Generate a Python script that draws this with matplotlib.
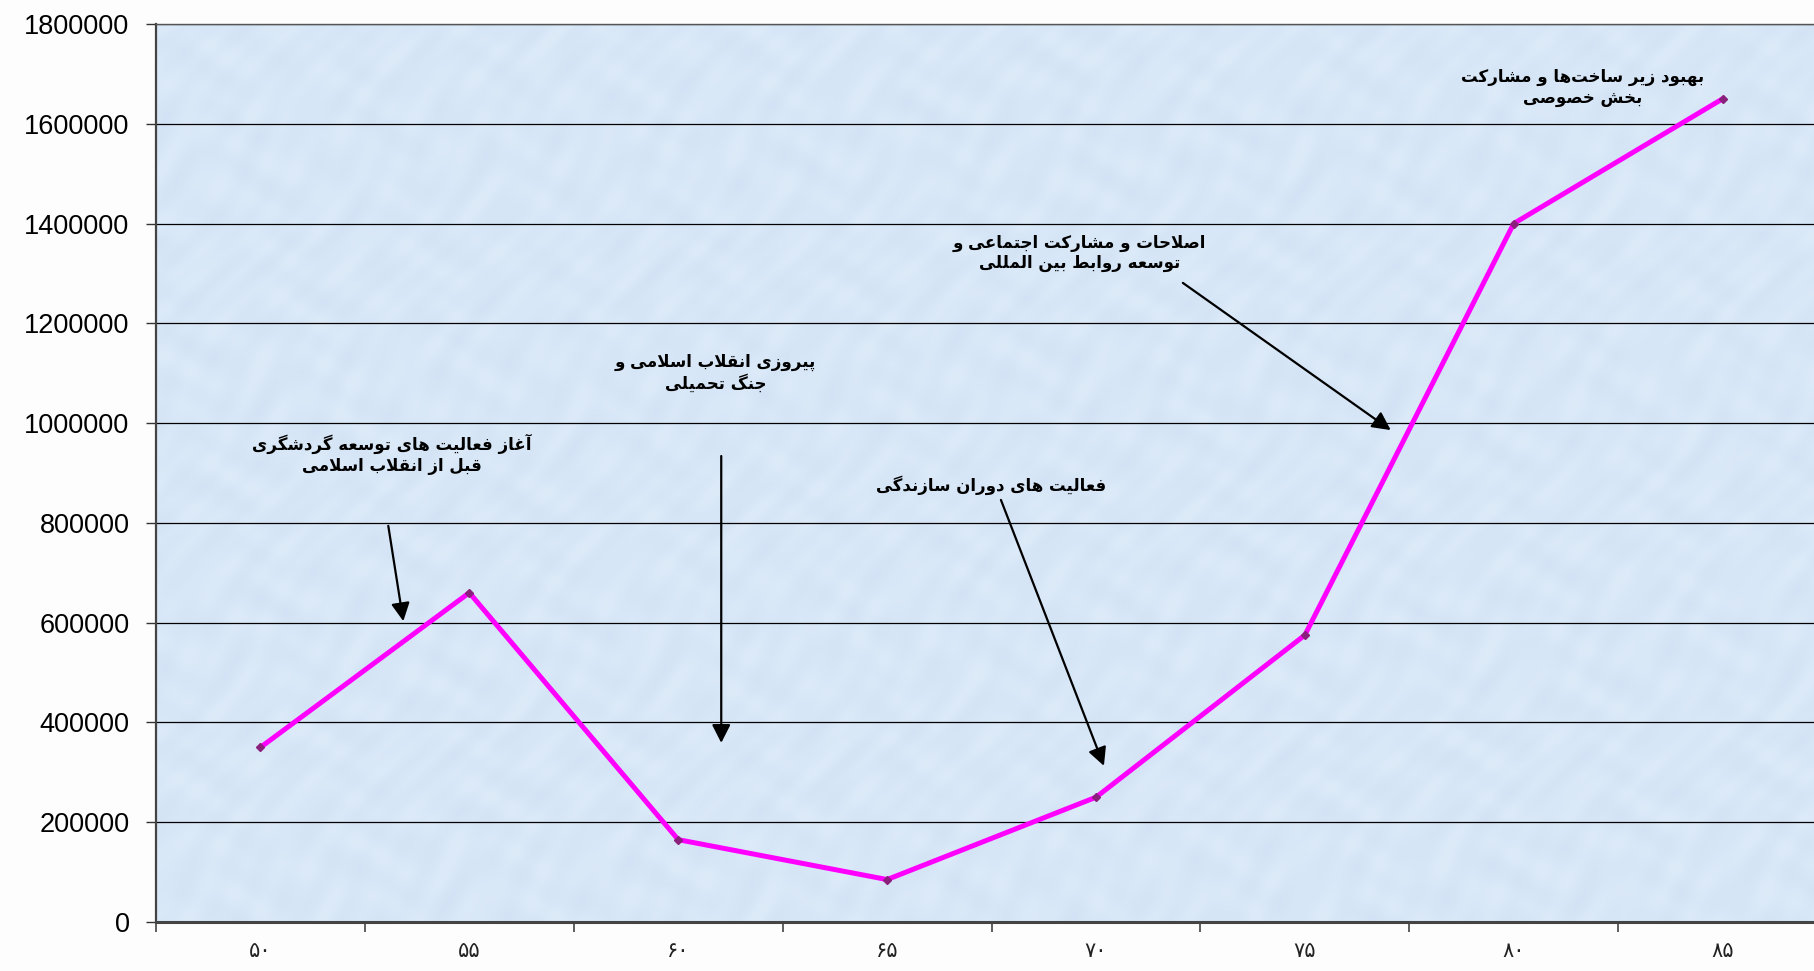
import numpy as np
import matplotlib
matplotlib.use('Agg')
import matplotlib.pyplot as plt

# tourists per period (Iranian calendar years 1350..1385)
years = ['۵۰', '۵۵', '۶۰', '۶۵', '۷۰', '۷۵', '۸۰', '۸۵']
visitors = [350000, 660000, 165000, 85000, 250000, 575000, 1400000, 1650000]
y_ticks = list(range(0, 1800001, 200000))

# period notes: text, text position, arrow tail, arrow head (x in category index)
notes = [
    ('آغاز فعالیت های توسعه گردشگری\nقبل از انقلاب اسلامی', (0.63, 938000), (0.612, 794000), (0.684, 603000)),
    ('پیروزی انقلاب اسلامی و\nجنگ تحمیلی', (2.18, 1100000), (2.206, 934000), (2.206, 359000)),
    ('فعالیت های دوران سازندگی', (3.50, 876000), (3.545, 846000), (4.038, 313000)),
    ('اصلاحات و مشارکت اجتماعی و\nتوسعه روابط بین المللی', (3.92, 1341000), (4.416, 1281000), (5.411, 986000)),
    ('بهبود زیر ساخت‌ها و مشارکت\nبخش خصوصی', (6.33, 1673000), None, None),
]

# contextual forms: (isolated, final, initial, medial) or (isolated, final)
FORMS = {
    'ا': (0xFE8D, 0xFE8E), 'آ': (0xFE81, 0xFE82),
    'ب': (0xFE8F, 0xFE90, 0xFE91, 0xFE92), 'پ': (0xFB56, 0xFB57, 0xFB58, 0xFB59),
    'ت': (0xFE95, 0xFE96, 0xFE97, 0xFE98), 'ث': (0xFE99, 0xFE9A, 0xFE9B, 0xFE9C),
    'ج': (0xFE9D, 0xFE9E, 0xFE9F, 0xFEA0), 'چ': (0xFB7A, 0xFB7B, 0xFB7C, 0xFB7D),
    'ح': (0xFEA1, 0xFEA2, 0xFEA3, 0xFEA4), 'خ': (0xFEA5, 0xFEA6, 0xFEA7, 0xFEA8),
    'د': (0xFEA9, 0xFEAA), 'ذ': (0xFEAB, 0xFEAC), 'ر': (0xFEAD, 0xFEAE),
    'ز': (0xFEAF, 0xFEB0), 'ژ': (0xFB8A, 0xFB8B),
    'س': (0xFEB1, 0xFEB2, 0xFEB3, 0xFEB4), 'ش': (0xFEB5, 0xFEB6, 0xFEB7, 0xFEB8),
    'ص': (0xFEB9, 0xFEBA, 0xFEBB, 0xFEBC), 'ض': (0xFEBD, 0xFEBE, 0xFEBF, 0xFEC0),
    'ط': (0xFEC1, 0xFEC2, 0xFEC3, 0xFEC4), 'ظ': (0xFEC5, 0xFEC6, 0xFEC7, 0xFEC8),
    'ع': (0xFEC9, 0xFECA, 0xFECB, 0xFECC), 'غ': (0xFECD, 0xFECE, 0xFECF, 0xFED0),
    'ف': (0xFED1, 0xFED2, 0xFED3, 0xFED4), 'ق': (0xFED5, 0xFED6, 0xFED7, 0xFED8),
    'ک': (0xFB8E, 0xFB8F, 0xFB90, 0xFB91), 'گ': (0xFB92, 0xFB93, 0xFB94, 0xFB95),
    'ل': (0xFEDD, 0xFEDE, 0xFEDF, 0xFEE0), 'م': (0xFEE1, 0xFEE2, 0xFEE3, 0xFEE4),
    'ن': (0xFEE5, 0xFEE6, 0xFEE7, 0xFEE8), 'و': (0xFEED, 0xFEEE),
    'ه': (0xFEE9, 0xFEEA, 0xFEEB, 0xFEEC), 'ی': (0xFBFC, 0xFBFD, 0xFBFE, 0xFBFF),
}
LAM_ALEF = {'ا': (0xFEFB, 0xFEFC), 'آ': (0xFEF5, 0xFEF6)}


def shape(line):
    # join letters and reverse, since matplotlib lays text out left to right
    out = []
    i = 0
    while i < len(line):
        c = line[i]
        prev = line[i - 1] if i > 0 else ''
        nxt = line[i + 1] if i + 1 < len(line) else ''
        if c not in FORMS:
            if c != '\u200c':
                out.append(c)
            i += 1
            continue
        link_prev = prev in FORMS and len(FORMS[prev]) == 4
        if c == 'ل' and nxt in LAM_ALEF:
            lig = LAM_ALEF[nxt]
            out.append(chr(lig[1] if link_prev else lig[0]))
            i += 2
            continue
        f = FORMS[c]
        link_next = len(f) == 4 and nxt in FORMS
        if link_prev and link_next:
            g = f[3]
        elif link_prev:
            g = f[1]
        elif link_next:
            g = f[2]
        else:
            g = f[0]
        out.append(chr(g))
        i += 1
    return ''.join(reversed(out))


def shape_text(text):
    return '\n'.join(shape(l) for l in text.split('\n'))


fig = plt.figure(figsize=(18.14, 9.71), dpi=100)
fig.patch.set_facecolor('#fdfdfd')
ax = fig.add_axes([0.086, 0.0505, 0.9212, 0.9248])

x = np.arange(len(years))
ax.set_xlim(-0.5, len(years) - 0.5)
ax.set_ylim(0, 1800000)

# light blue paper texture behind the plot
yy, xx = np.mgrid[0:300, 0:600]
tex = (np.sin(xx / 3.7 + 2.6 * np.sin(yy / 7.3 + xx / 23.0))
       + np.sin(yy / 2.9 + 2.4 * np.cos(xx / 8.1 - yy / 19.0))
       + 0.8 * np.sin(xx / 1.9 + yy / 2.3 + 3 * np.sin(yy / 13.0))) / 2.8
base = np.array([216, 231, 247]) / 255.0
img = np.clip(base[None, None, :] + tex[..., None] * np.array([0.018, 0.014, 0.008]), 0, 1)
ax.imshow(img, extent=(-0.5, len(years) - 0.5, 0, 1800000), aspect='auto',
          interpolation='bilinear', zorder=0)

ax.grid(axis='y', color='black', linewidth=0.9, zorder=1)
ax.set_axisbelow(False)

ax.plot(x, visitors, color='#ff00ff', linewidth=3.6, zorder=3)
ax.plot(x, visitors, linestyle='none', marker='D', markersize=4.5,
        markerfacecolor='#8a1f7c', markeredgecolor='#8a1f7c', zorder=4)

for text, pos, tail, head in notes:
    ax.text(pos[0], pos[1], shape_text(text), ha='center', va='center',
            fontsize=12, fontweight='bold', family='DejaVu Sans',
            linespacing=1.2, zorder=5)
    if tail is not None:
        ax.annotate('', xy=head, xytext=tail, zorder=5,
                    arrowprops=dict(arrowstyle='-|>,head_length=0.55,head_width=0.28',
                                    color='black', lw=1.6, mutation_scale=20,
                                    shrinkA=0, shrinkB=0))

# y axis
ax.set_yticks(y_ticks)
ax.set_yticklabels([str(v) for v in y_ticks], fontsize=19.5, family='Liberation Sans')
ax.tick_params(axis='y', direction='out', length=7, width=1, pad=12, color='#333333')

# x axis: ticks on category boundaries, labels in the middle
ax.set_xticks(np.arange(-0.5, len(years) - 0.5, 1.0))
ax.set_xticklabels([])
ax.set_xticks(x, minor=True)
ax.set_xticklabels(years, minor=True, fontsize=15, family='DejaVu Sans', color='#222222')
ax.tick_params(axis='x', which='major', direction='out', length=7, width=1.2, color='#444444')
ax.tick_params(axis='x', which='minor', length=0, pad=14)

ax.spines['left'].set_color('#444444')
ax.spines['left'].set_linewidth(1.6)
ax.spines['bottom'].set_color('#444444')
ax.spines['bottom'].set_linewidth(2.2)
ax.spines['top'].set_color('#555555')
ax.spines['top'].set_linewidth(1.0)
ax.spines['right'].set_visible(False)
for s in ax.spines.values():
    s.set_zorder(6)

fig.savefig('out.png', dpi=100, facecolor=fig.get_facecolor())
